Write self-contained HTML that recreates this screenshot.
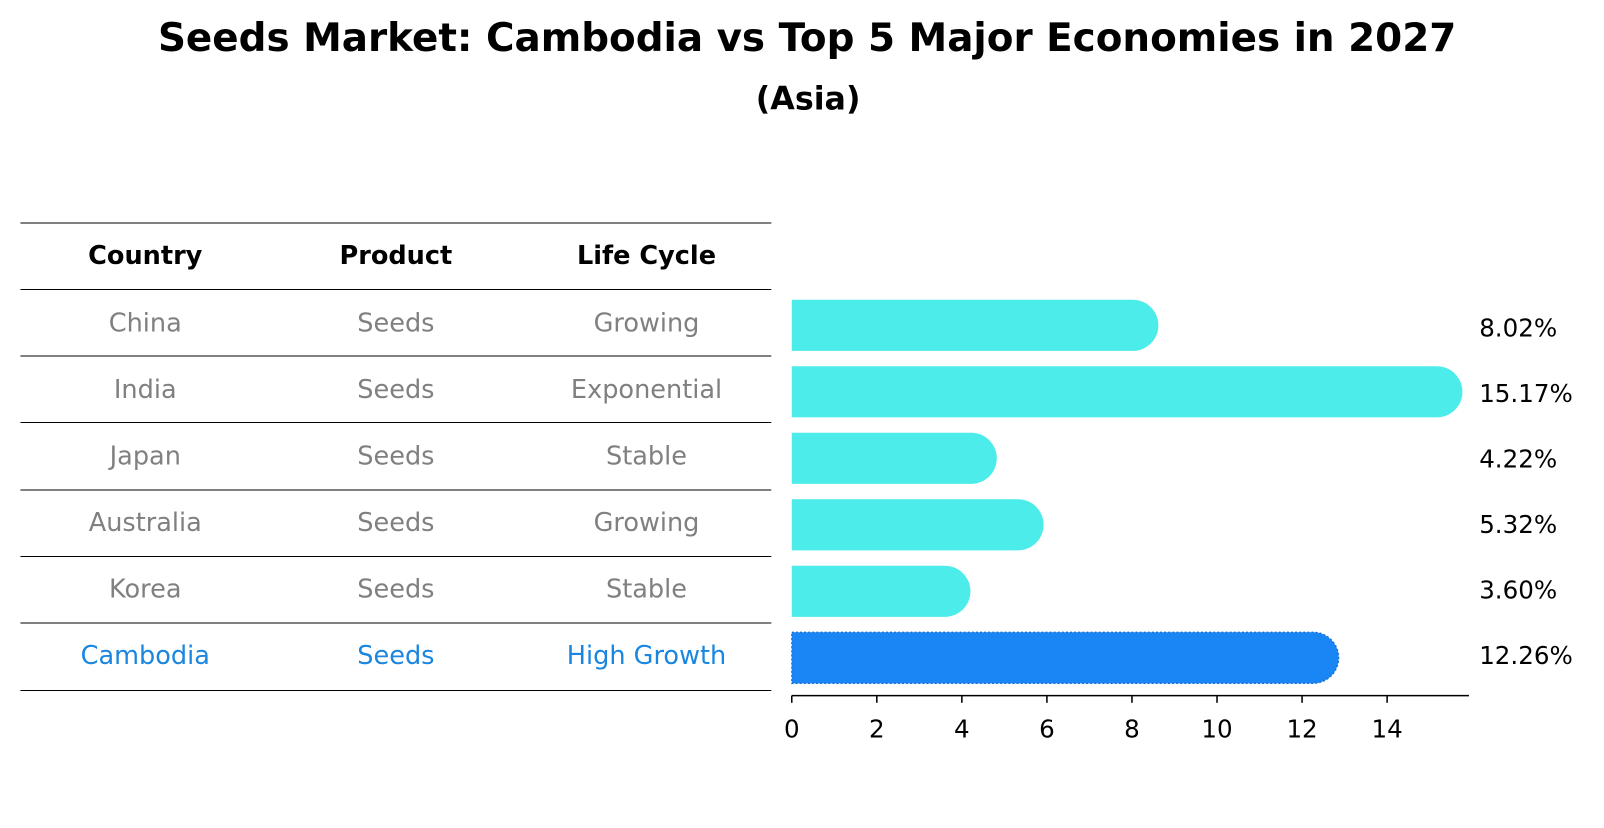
<!DOCTYPE html>
<html><head><meta charset="utf-8"><style>
body{margin:0;background:#fff;font-family:"Liberation Sans","DejaVu Sans",sans-serif;}
svg text{font-family:"DejaVu Sans","Liberation Sans",sans-serif;}
</style></head><body>
<svg id="chart" width="1604" height="823" viewBox="0 0 1568 804.5" xmlns="http://www.w3.org/2000/svg">
<text x="789" y="50" text-anchor="middle" font-size="38" font-weight="bold">Seeds Market: Cambodia vs Top 5 Major Economies in 2027</text>
<text x="790" y="107" text-anchor="middle" font-size="31" font-weight="bold">(Asia)</text>
<g id="table"></g>
<g id="bars"></g>
</svg>
<script>
const countries=["China","India","Japan","Australia","Korea","Cambodia"];
const products=["Seeds","Seeds","Seeds","Seeds","Seeds","Seeds"];
const lifeCycles=["Growing","Exponential","Stable","Growing","Stable","High Growth"];
const values=[8.02,15.17,4.22,5.32,3.60,12.26];
const valueLabels=["8.02%","15.17%","4.22%","5.32%","3.60%","12.26%"];
const xTicks=[0,2,4,6,8,10,12,14];

const NS="http://www.w3.org/2000/svg";
function mk(tag,attrs,parent){const e=document.createElementNS(NS,tag);for(const k in attrs)e.setAttribute(k,attrs[k]);parent.appendChild(e);return e;}
const x0=774,unit=41.57;
const xs=v=>x0+v*unit;
const rowY=i=>318+i*65;
const table=document.getElementById('table');
const bars=document.getElementById('bars');
const ruleYs=[218,283,348,413,479,544,609,675];
for(let i=0;i<ruleYs.length;i++){
  const y=ruleYs[i];
  const l=mk('line',{x1:20,x2:754,y1:y,y2:y,stroke:'#000','stroke-width':1},table);
  
  
}
const colX=[142,387,632];
["Country","Product","Life Cycle"].forEach((h,j)=>{
  const t=mk('text',{x:colX[j],y:258,'text-anchor':'middle','font-size':25,'font-weight':'bold'},table);
  t.textContent=h;
  
  
});
countries.forEach((c,i)=>{
  const last=i===countries.length-1;
  const col=last?'#1a86e0':'#808080';
  const ty=315+i*65+9;
  [c,products[i],lifeCycles[i]].forEach((v,j)=>{
    const t=mk('text',{x:colX[j],y:ty,'text-anchor':'middle','font-size':25,fill:col},table);
    t.textContent=v;
    
    
  });
  const h=50,y=rowY(i)-25,w=xs(values[i])-x0,r=25;
  const color=last?'#1a86f5':'#4cecea';
  const attrs={d:`M${x0},${y} H${x0+w} A${r},${r} 0 0 1 ${x0+w},${y+h} H${x0} Z`,fill:color};
  if(last){attrs.stroke='#1670d0';attrs['stroke-width']=1.2;attrs['stroke-dasharray']='2,2';}
  const p=mk('path',attrs,bars);
  
  
  const t=mk('text',{x:1446,y:315+i*64+14,'font-size':24},bars);
  t.textContent=valueLabels[i];
  
  
});
const ax=mk('line',{x1:x0,x2:1436,y1:680,y2:680,stroke:'#000','stroke-width':1.5},bars);


xTicks.forEach(v=>{
  const l=mk('line',{x1:xs(v),x2:xs(v),y1:680,y2:687,stroke:'#000','stroke-width':1.5},bars);
  
  
  const t=mk('text',{x:xs(v),y:721,'text-anchor':'middle','font-size':24},bars);
  t.textContent=v;
  
  
});
</script>
</body></html>
